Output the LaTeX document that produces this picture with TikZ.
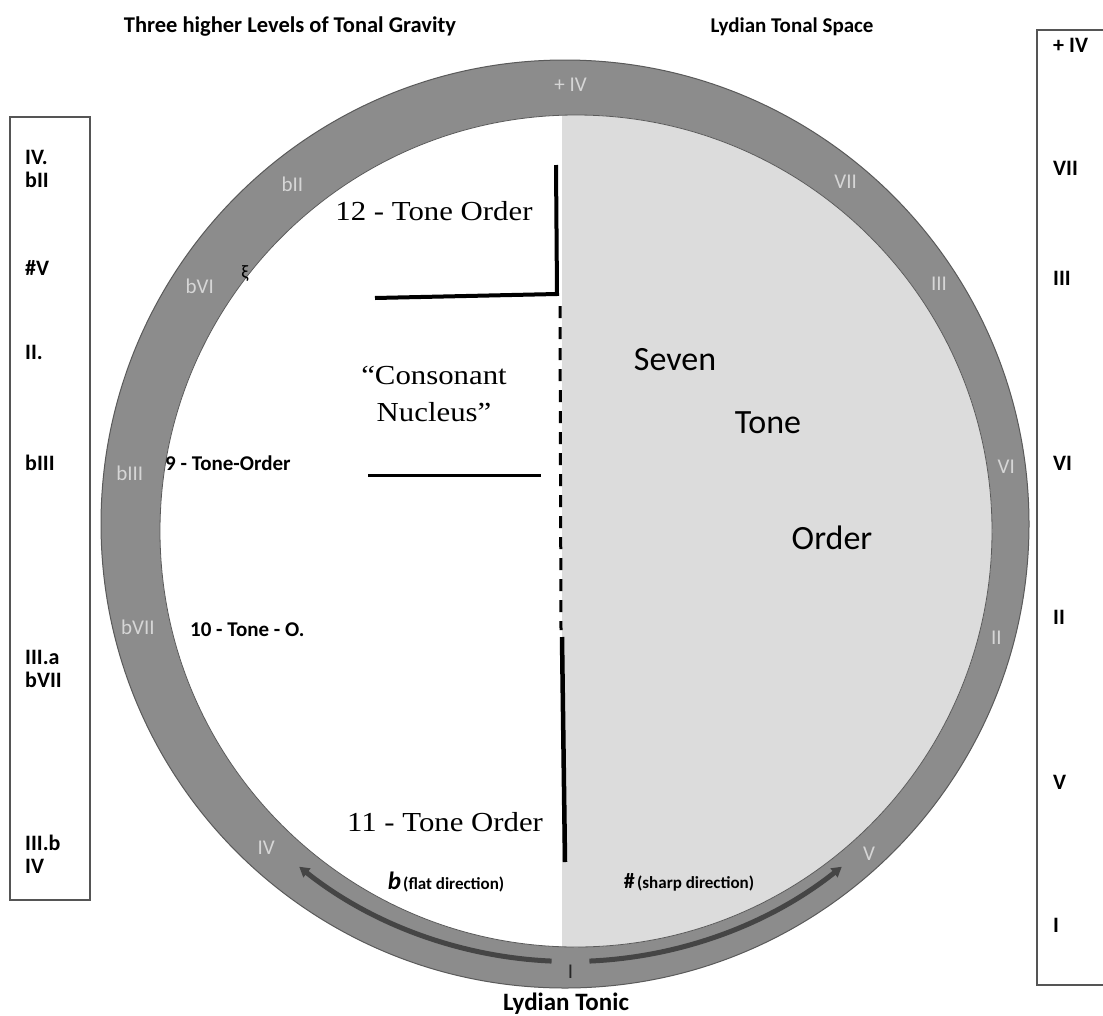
\documentclass[tikz,border=0pt]{standalone}
\usepackage{fontspec}
\setmainfont{Carlito}
\newfontfamily\serifbook[FakeStretch=1.12]{Liberation Serif}
\usetikzlibrary{arrows.meta,calc}

\definecolor{ringgray}{HTML}{8C8C8C}
\definecolor{ringedge}{HTML}{5A5A5A}
\definecolor{sharpfill}{HTML}{DCDCDC}
\definecolor{ringtext}{HTML}{D6D6D6}
\definecolor{arrowgray}{HTML}{454545}
\definecolor{boxedge}{HTML}{555555}

\begin{document}
\begin{tikzpicture}[x=1pt,y=-1pt,
  ringlabel/.style={font=\fontsize{21}{21}\selectfont, text=ringtext, inner sep=0pt},
  boxlabel/.style={font=\bfseries\fontsize{22}{22}\selectfont, anchor=west, inner sep=0pt},
  titletext/.style={font=\bfseries\fontsize{21}{21}\selectfont, inner sep=0pt},
  ordertext/.style={font=\serifbook\fontsize{27.5}{37}\selectfont, inner sep=0pt},
  sanslabel/.style={font=\bfseries\fontsize{21}{21}\selectfont, anchor=west, inner sep=0pt},
  bigsans/.style={font=\fontsize{34}{34}\selectfont, inner sep=0pt},
  divider/.style={line width=4pt, line join=miter},
  dirarrow/.style={line width=5pt, color=arrowgray, -{Triangle[length=10pt,width=11pt]}},
]

\useasboundingbox (0,0) rectangle (1103,1015);
\fill[white] (0,0) rectangle (1103,1015);

% the circle of fifths ring and its two halves
\coordinate (outerc) at (565,524);
\coordinate (innerc) at (576,531);
\coordinate (ringc) at (570.5,527.5);
\fill[ringgray, draw=ringedge, line width=1pt] (outerc) circle[radius=464pt];
\fill[white] (innerc) circle[radius=416pt];
\begin{scope}
  \clip (innerc) circle[radius=416pt];
  \fill[sharpfill] (562,100) rectangle (1000,960);
\end{scope}
\draw[ringedge, line width=0.8pt] (innerc) circle[radius=416pt];

% degree names on the ring
\node[ringlabel] (r-plusiv) at ($(ringc)+(-90:443)$) {+ IV};
\node[ringlabel] (r-bii)    at ($(ringc)+(-129:442)$) {bII};
\node[ringlabel] (r-vii)    at ($(ringc)+(-51.5:442)$) {VII};
\node[ringlabel] (r-bvi)    at ($(ringc)+(-147:442)$) {bVI};
\node[ringlabel] (r-iii)    at ($(ringc)+(-33.5:442)$) {III};
\node[ringlabel] (r-biii)   at ($(ringc)+(-173:444)$) {bIII};
\node[ringlabel] (r-vi)     at ($(ringc)+(-8:440)$) {VI};
\node[ringlabel] (r-bvii)   at ($(ringc)+(167:444)$) {bVII};
\node[ringlabel] (r-ii)     at ($(ringc)+(14.5:440)$) {II};
\node[ringlabel] (r-iv)     at ($(ringc)+(133.5:442)$) {IV};
\node[ringlabel] (r-v)      at ($(ringc)+(47.5:442)$) {V};
\node[ringlabel, text=black!85] (r-i) at ($(ringc)+(90:444)$) {I};
\node[inner sep=0pt, font=\fontsize{19}{19}\selectfont] (squiggle) at (245,274) {ξ};

% flat and sharp direction arrows
\draw[dirarrow] ($(ringc)+(92.5:434)$) arc[start angle=92.5, end angle=128.5, radius=436];
\draw[dirarrow] ($(ringc)+(87.5:434)$) arc[start angle=87.5, end angle=51.5, radius=436];

% order boundaries
\coordinate (twelvetop) at (556,165);
\coordinate (twelvecorner) at (557,294);
\coordinate (twelveleft) at (375,298);
\draw[divider] (twelvetop) -- (twelvecorner) -- (twelveleft);
\coordinate (nineleft) at (368,475);
\coordinate (nineright) at (541,475);
\draw[line width=3pt] (nineleft) -- (nineright);
\coordinate (dashtop) at (560,306);
\coordinate (dashbottom) at (561,630);
\draw[line width=3pt, dash pattern=on 12pt off 9pt] (dashtop) -- (dashbottom);
\coordinate (eleventop) at (562,637);
\coordinate (elevenbottom) at (565,862);
\draw[line width=4.5pt] (eleventop) -- (elevenbottom);

% texts inside the circle
\node[ordertext] (twelve) at (434,211) {12 - Tone Order};
\node[ordertext, align=center] (nucleus) at (434,394) {“Consonant\\Nucleus”};
\node[ordertext] (eleven) at (445,822) {11 - Tone Order};
\node[sanslabel] (nine) at (165,463) {9 - Tone-Order};
\node[sanslabel] (ten) at (190,630) {10 - Tone - O.};
\node[inner sep=0pt] (flat) at (446,882)
  {{\bfseries\itshape\fontsize{25}{25}\selectfont b} {\bfseries\fontsize{17}{17}\selectfont (flat direction)}};
\node[inner sep=0pt] (sharp) at (689,882)
  {{\bfseries\fontsize{22}{22}\selectfont\#} {\bfseries\fontsize{17}{17}\selectfont (sharp direction)}};
\node[bigsans] (seven) at (675,360) {Seven};
\node[bigsans] (tone) at (768,423) {Tone};
\node[bigsans] (order) at (832,538) {Order};

% titles and tonic
\node[titletext, font=\bfseries\fontsize{22.5}{22.5}\selectfont] (lefttitle) at (290,27) {Three higher Levels of Tonal Gravity};
\node[titletext] (righttitle) at (792,27) {Lydian Tonal Space};
\node[font=\bfseries\fontsize{25}{25}\selectfont, inner sep=0pt] (tonic) at (566,1004) {Lydian Tonic};

% left box: levels of tonal gravity
\draw[boxedge, line width=1.2pt] (10,117) rectangle (90,900);
\node[boxlabel] (l-iv) at (25,157) {IV.};
\node[boxlabel] (l-bii) at (25,180) {bII};
\node[boxlabel] (l-sharpv) at (25,268) {\#V};
\node[boxlabel] (l-ii) at (25,352) {II.};
\node[boxlabel] (l-biii) at (25,463) {bIII};
\node[boxlabel] (l-iiia) at (25,657) {III.a};
\node[boxlabel] (l-bvii) at (25,680) {bVII};
\node[boxlabel] (l-iiib) at (25,843) {III.b};
\node[boxlabel] (l-ivb) at (25,866) {IV};

% right box: lydian tonal space
\draw[boxedge, line width=1.2pt] (1103,30) -| (1037,985) -- (1103,985);
\node[boxlabel] (s-plusiv) at (1053,45) {+ IV};
\node[boxlabel] (s-vii) at (1053,168) {VII};
\node[boxlabel] (s-iii) at (1053,278) {III};
\node[boxlabel] (s-vi) at (1053,463) {VI};
\node[boxlabel] (s-ii) at (1053,617) {II};
\node[boxlabel] (s-v) at (1053,782) {V};
\node[boxlabel] (s-i) at (1053,925) {I};
\end{tikzpicture}
\end{document}
